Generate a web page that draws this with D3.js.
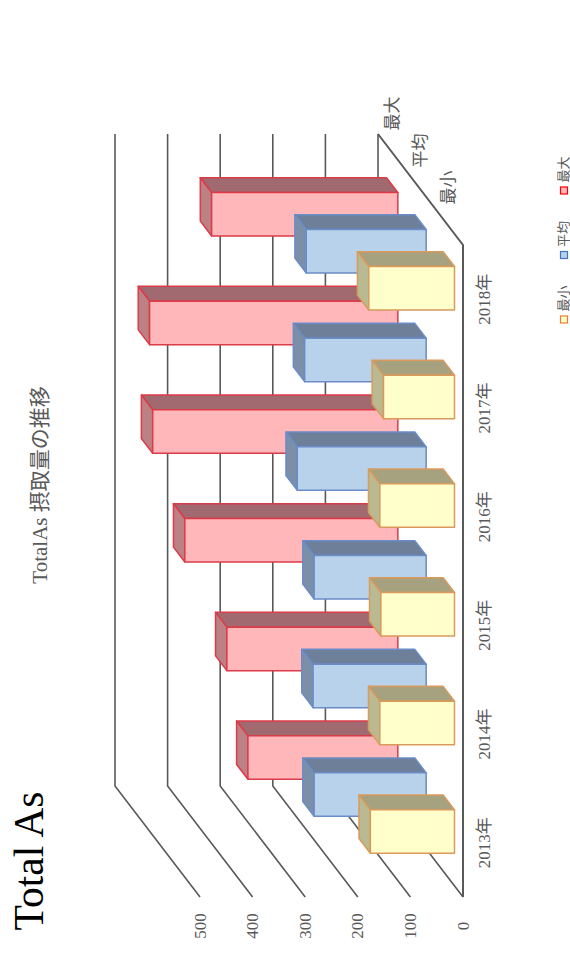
<!DOCTYPE html>
<html><head><meta charset="utf-8">
<script src="https://cdn.jsdelivr.net/npm/d3@7"></script>
<style>html,body{margin:0;padding:0;background:#fff}svg{display:block}text{font-family:"Liberation Serif","Noto Sans CJK JP",serif}</style>
</head><body><div id="c"></div>
<script>
const years = ["2013年","2014年","2015年","2016年","2017年","2018年"];
const seriesNames = ["最小","平均","最大"];
const minValues = [160,142,140,142,135,163];
const avgValues = [213,215,213,245,231,228];
const maxValues = [285,325,405,466,472,354];
const mainTitle = "Total As";
const subTitle = "TotalAs 摂取量の推移";
const faceColors = ["#ffffcc","#b8d2ec","#ffb7ba"];
const topColors = ["#a6a17e","#6d7f99","#a06a70"];
const sideColors = ["#b9ba91","#7b8fa9","#bb8185"];
const borderColors = ["#d99a5c","#6a8cc8","#dc3b48"];
const legendColors = ["#ed7d31","#4472c4","#ff0000"];

const W=570,H=975;
const svg=d3.select("#c").append("svg").attr("width",W).attr("height",H);
const valueX=d3.scaleLinear().domain([0,500]).range([463,200]);
const catY=d3.scaleBand().domain(years).range([897,245]);
const depth=d3.scaleLinear().domain([0,1]).range([0,1]);
const dvx=-85,dvy=-111;
const proj=(v,yPos,t)=>[valueX(v)+dvx*depth(t),yPos+dvy*depth(t)];
const line=d3.line();
const gridCol="#595959";

// walls
const ticks=valueX.ticks(5);
svg.append("g").selectAll("path").data(ticks).join("path")
  .attr("fill","none").attr("stroke",gridCol).attr("stroke-width",1.6)
  .attr("d",d=>line([proj(d,catY.range()[0],0),proj(d,catY.range()[0],1),proj(d,catY.range()[1],1)]));
svg.append("path").attr("fill","none").attr("stroke",gridCol).attr("stroke-width",2)
  .attr("d",line([proj(0,catY.range()[0],0),proj(0,catY.range()[1],0),proj(0,catY.range()[1],1)]));

// boxes: back series first
const seriesData=[minValues,avgValues,maxValues];
const laneDepth=1/3, gapD=0.3, barD=0.4, barW=catY.bandwidth()*0.4;
[2,1,0].forEach(s=>{
  const g=svg.append("g");
  const t0=(s+gapD)*laneDepth, t1=(s+gapD+barD)*laneDepth;
  seriesData[s].forEach((v,i)=>{
    const yc=catY(years[i])+catY.bandwidth()/2;
    const yb=yc+barW/2, yt=yc-barW/2;
    const sw=1.5;
    g.append("path").attr("fill",topColors[s]).attr("stroke",borderColors[s]).attr("stroke-width",sw).attr("stroke-linejoin","round")
      .attr("d",line([proj(0,yt,t0),proj(v,yt,t0),proj(v,yt,t1),proj(0,yt,t1)])+"Z");
    g.append("path").attr("fill",sideColors[s]).attr("stroke",borderColors[s]).attr("stroke-width",sw).attr("stroke-linejoin","round")
      .attr("d",line([proj(v,yb,t0),proj(v,yt,t0),proj(v,yt,t1),proj(v,yb,t1)])+"Z");
    g.append("path").attr("fill",faceColors[s]).attr("stroke",borderColors[s]).attr("stroke-width",sw).attr("stroke-linejoin","round")
      .attr("d",line([proj(0,yb,t0),proj(v,yb,t0),proj(v,yt,t0),proj(0,yt,t0)])+"Z");
  });
});

function rotText(x,y,str,size,fill){
  return svg.append("text").attr("transform",`translate(${x},${y}) rotate(-90)`)
    .attr("text-anchor","middle").attr("dominant-baseline","central")
    .attr("font-size",size).attr("fill",fill).text(str);
}
ticks.forEach(d=>rotText(valueX(d),926,d,17,"#595959"));
years.forEach(y=>rotText(484,catY(y)+catY.bandwidth()/2,y,17,"#595959"));
seriesNames.forEach((n,s)=>{
  const t=(s+0.5)*laneDepth;
  const p=proj(0,catY.range()[1],t);
  rotText(p[0],p[1]-39,n,17,"#595959");
});
rotText(28.5,861,mainTitle,41.5,"#000");
rotText(40,485,subTitle,21,"#595959");

// legend
const legendY=d3.scalePoint().domain(seriesNames).range([319.5,190.5]);
seriesNames.forEach((n,s)=>{
  const y=legendY(n);
  svg.append("rect").attr("x",560.5).attr("y",y-3.5).attr("width",7).attr("height",7)
    .attr("fill",faceColors[s]).attr("stroke",legendColors[s]).attr("stroke-width",1.2);
  rotText(563,y-21,n,13,"#595959");
});
</script></body></html>
